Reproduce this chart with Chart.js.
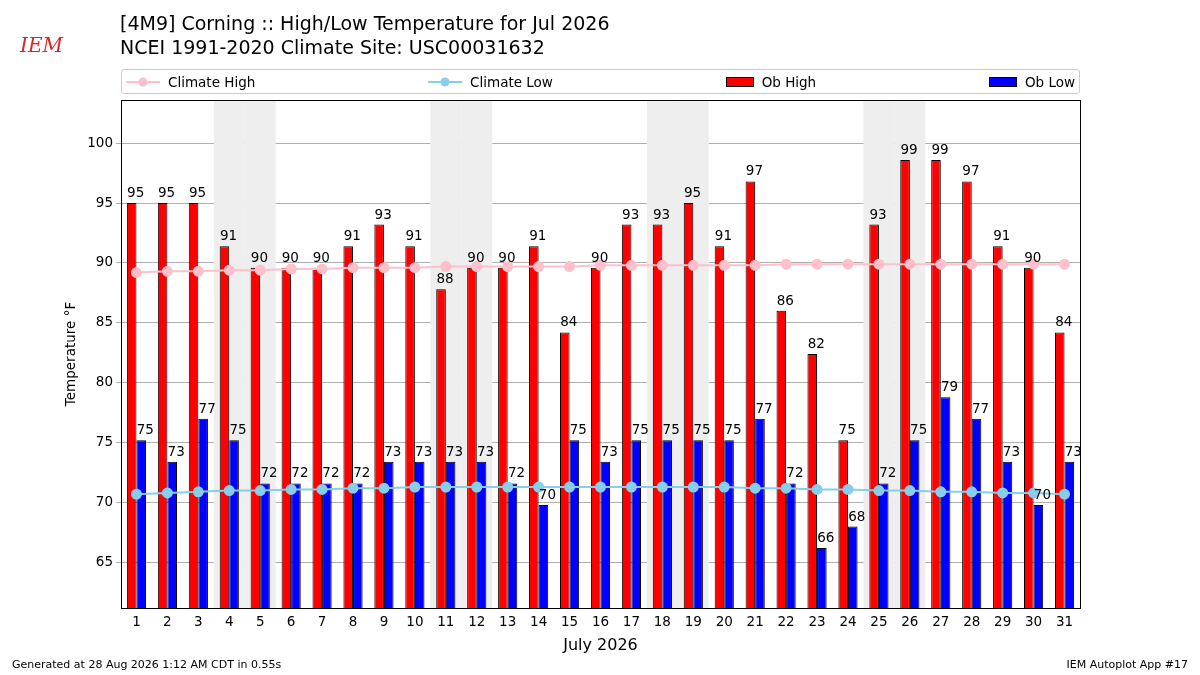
<!DOCTYPE html>
<html><head><meta charset="utf-8">
<script src="https://cdn.jsdelivr.net/npm/chart.js@4/dist/chart.umd.min.js"></script>
<style>
body{margin:0;background:#fff;font-family:"DejaVu Sans",sans-serif;}
#wrap{position:relative;width:1200px;height:675px;}
canvas{position:absolute;left:0;top:0;}
.t{position:absolute;color:#000;white-space:nowrap;}
#legend{position:absolute;left:121px;top:69px;width:959px;height:25px;border:1px solid #ccc;border-radius:3px;display:flex;justify-content:space-between;align-items:center;font-size:13.5px;padding:0 4px;box-sizing:border-box;}
#legend span{display:flex;align-items:center;gap:8px;}
</style></head><body>
<div id="wrap">
<canvas id="c" width="1200" height="675"></canvas>
<div class="t" style="left:20px;top:33px;font:italic 20px 'DejaVu Serif';color:#d22">IEM</div>
<div class="t" style="left:120px;top:12px;font-size:19px">[4M9] Corning :: High/Low Temperature for Jul 2026</div>
<div class="t" style="left:120px;top:36px;font-size:19px">NCEI 1991-2020 Climate Site: USC00031632</div>
<div id="legend">
<span><svg width="34" height="12"><line x1="0" y1="6" x2="34" y2="6" stroke="pink" stroke-width="2"/><circle cx="17" cy="6" r="4.5" fill="pink"/></svg>Climate High</span>
<span><svg width="34" height="12"><line x1="0" y1="6" x2="34" y2="6" stroke="skyblue" stroke-width="2"/><circle cx="17" cy="6" r="4.5" fill="skyblue"/></svg>Climate Low</span>
<span><svg width="28" height="12"><rect x="0.5" y="1.5" width="27" height="9" fill="red" stroke="#000"/></svg>Ob High</span>
<span><svg width="28" height="12"><rect x="0.5" y="1.5" width="27" height="9" fill="blue" stroke="#000"/></svg>Ob Low</span>
</div>
<div class="t" style="left:12px;top:658px;font-size:11px">Generated at 28 Aug 2026 1:12 AM CDT in 0.55s</div>
<div class="t" style="right:12px;top:658px;font-size:11px">IEM Autoplot App #17</div>
</div>
<script>
const days = Array.from({length:31},(_,i)=>String(i+1));
const obHigh = [95,95,95,91.4,89.6,89.6,89.6,91.4,93.2,91.4,87.8,89.6,89.6,91.4,84.2,89.6,93.2,93.2,95,91.4,96.8,86,82.4,75.2,93.2,98.6,98.6,96.8,91.4,89.6,84.2];
const obLow = [75.2,73.4,77,75.2,71.6,71.6,71.6,71.6,73.4,73.4,73.4,73.4,71.6,69.8,75.2,73.4,75.2,75.2,75.2,75.2,77,71.6,66.2,68,71.6,75.2,78.8,77,73.4,69.8,73.4];
const climHigh = [89.2,89.3,89.3,89.4,89.4,89.5,89.5,89.6,89.6,89.6,89.7,89.7,89.7,89.7,89.7,89.8,89.8,89.8,89.8,89.8,89.8,89.9,89.9,89.9,89.9,89.9,89.9,89.9,89.9,89.9,89.9];
const climLow = [70.7,70.8,70.9,71.0,71.0,71.1,71.1,71.2,71.2,71.3,71.3,71.3,71.3,71.3,71.3,71.3,71.3,71.3,71.3,71.3,71.2,71.2,71.1,71.1,71.0,71.0,70.9,70.9,70.8,70.8,70.7];
const weekends = [4,5,11,12,18,19,25,26];

const shade = {id:'shade', beforeDatasetsDraw(ch){
  const {ctx,chartArea:a,scales:{x}} = ch; const w = x.getPixelForValue(1)-x.getPixelForValue(0);
  ctx.save(); ctx.fillStyle='#eeeeee';
  weekends.forEach(d=>{const c=x.getPixelForValue(d-1); ctx.fillRect(c-w/2,a.top,w,a.bottom-a.top);});
  ctx.restore();
}};
const deco = {id:'deco', afterDatasetsDraw(ch){
  const {ctx,chartArea:a} = ch;
  ctx.save(); ctx.font='13.5px "DejaVu Sans"'; ctx.fillStyle='#000'; ctx.textAlign='center';
  [2,3].forEach(di=>{ ch.getDatasetMeta(di).data.forEach((b,i)=>{
    ctx.fillText(Math.round(ch.data.datasets[di].data[i]), b.x+4, b.y-6); }); });
  ctx.strokeStyle='#000'; ctx.lineWidth=1; ctx.strokeRect(a.left+.5,a.top+.5,a.right-a.left,a.bottom-a.top);
  ctx.font='16px "DejaVu Sans"'; ctx.fillText('July 2026', (a.left+a.right)/2, 650);
  ctx.font='13.5px "DejaVu Sans"'; ctx.translate(75,(a.top+a.bottom)/2); ctx.rotate(-Math.PI/2);
  ctx.fillText('Temperature °F',0,0);
  ctx.restore();
}};

new Chart(document.getElementById('c'), {
  data:{labels:days, datasets:[
    {type:'line',label:'Climate High',data:climHigh,borderColor:'pink',backgroundColor:'pink',pointRadius:4.5,borderWidth:2,order:0},
    {type:'line',label:'Climate Low',data:climLow,borderColor:'skyblue',backgroundColor:'skyblue',pointRadius:4.5,borderWidth:2,order:0},
    {type:'bar',label:'Ob High',data:obHigh,backgroundColor:'red',borderColor:'#000',borderWidth:1,borderSkipped:false,order:1,barPercentage:1,categoryPercentage:0.62},
    {type:'bar',label:'Ob Low',data:obLow,backgroundColor:'blue',borderColor:'#000',borderWidth:1,borderSkipped:false,order:1,barPercentage:1,categoryPercentage:0.62}
  ]},
  options:{responsive:false,animation:false,
    layout:{padding:{top:100,right:120,left:0,bottom:0}},
    plugins:{legend:{display:false},tooltip:{enabled:false}},
    scales:{
      x:{grid:{display:false,drawTicks:true,tickLength:4},border:{color:'#000'},
        ticks:{color:'#000',font:{size:13.5,family:'DejaVu Sans'},maxRotation:0,autoSkip:false,padding:2},
        afterFit(s){s.height=67;}},
      y:{min:61.2,max:103.6,grid:{color:'#b0b0b0',tickLength:5},border:{color:'#000'},
        ticks:{color:'#000',font:{size:13.5,family:'DejaVu Sans'}},
        afterBuildTicks(s){s.ticks=[65,70,75,80,85,90,95,100].map(v=>({value:v}));},
        afterFit(s){s.width=121;}}
    }},
  plugins:[shade,deco]
});
</script>
</body></html>
